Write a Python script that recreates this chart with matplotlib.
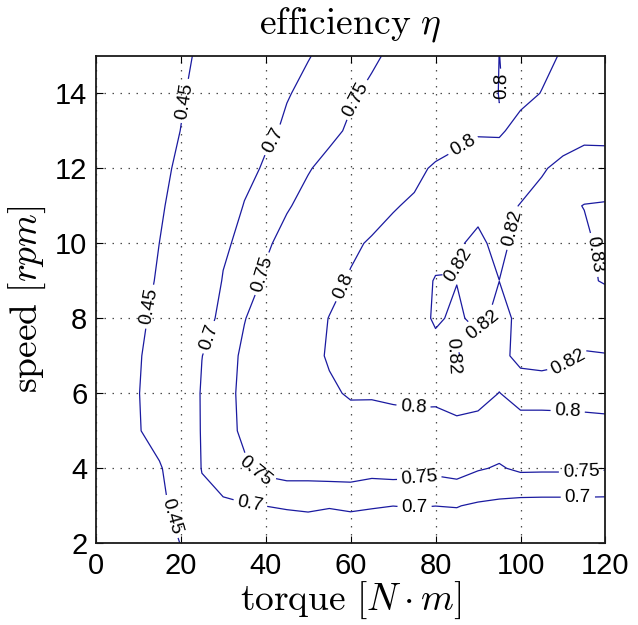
import matplotlib
matplotlib.use("Agg")
import matplotlib.pyplot as plt
import numpy as np

# ---- data -------------------------------------------------------------
torque = [0, 5, 10, 15, 20, 25, 30, 35, 40, 45, 50, 55, 60, 65, 70, 75, 80, 85, 90, 95, 100, 105, 110, 115, 120]
speed = [2, 3, 4, 5, 6, 7, 8, 9, 10, 11, 12, 13, 14, 15]
levels = [0.45, 0.7, 0.75, 0.8, 0.82, 0.83]

eta_s2 = [0.25, 0.30, 0.351, 0.402, 0.452, 0.50, 0.55, 0.60, 0.64, 0.665, 0.67, 0.67, 0.67, 0.67, 0.67, 0.67, 0.67, 0.67, 0.67, 0.67, 0.67, 0.67, 0.67, 0.67, 0.67]
eta_s3 = [0.25, 0.308, 0.366, 0.423, 0.49, 0.6665, 0.6915, 0.696, 0.7005, 0.704, 0.706, 0.7023, 0.7057, 0.7026, 0.7002, 0.7016, 0.7002, 0.7016, 0.694, 0.69, 0.6836, 0.6828, 0.6828, 0.6828, 0.6831]
eta_s4 = [0.25, 0.315, 0.38, 0.43, 0.5737, 0.705, 0.727, 0.745, 0.764, 0.773, 0.772, 0.7757, 0.776, 0.7675, 0.7714, 0.7688, 0.7625, 0.7698, 0.754, 0.7456, 0.7582, 0.7574, 0.7574, 0.7574, 0.7535]
eta_s5 = [0.25, 0.343, 0.437, 0.531, 0.626, 0.706, 0.738, 0.756, 0.771, 0.78, 0.783, 0.785, 0.785, 0.785, 0.785, 0.785, 0.785, 0.79, 0.787, 0.7794, 0.788, 0.788, 0.788, 0.788, 0.788]
eta_s6 = [0.25, 0.347, 0.444, 0.536, 0.628, 0.707, 0.742, 0.7555, 0.7654, 0.7753, 0.785, 0.795, 0.8033, 0.8031, 0.8064, 0.8092, 0.8084, 0.815, 0.8115, 0.7994, 0.8098, 0.8098, 0.8106, 0.812, 0.8147]
eta_s7 = [0.25, 0.343, 0.435, 0.523, 0.611, 0.699, 0.738, 0.755, 0.7666, 0.7781, 0.7896, 0.8033, 0.808, 0.81, 0.812, 0.813, 0.812, 0.822, 0.808, 0.815, 0.825, 0.8268, 0.8237, 0.8185, 0.8195]
eta_s8 = [0.25, 0.332, 0.414, 0.498, 0.584, 0.669, 0.719, 0.749, 0.7625, 0.7753, 0.788, 0.8008, 0.807, 0.81, 0.812, 0.81, 0.823, 0.816, 0.8265, 0.813, 0.8251, 0.827, 0.828, 0.8292, 0.8266]
eta_s9 = [0.25, 0.322, 0.394, 0.468, 0.55, 0.632, 0.705, 0.7335, 0.755, 0.767, 0.779, 0.791, 0.8026, 0.808, 0.811, 0.813, 0.821, 0.8205, 0.826, 0.8201, 0.826, 0.828, 0.829, 0.8292, 0.8304]
eta_s10 = [0.25, 0.317, 0.383, 0.4505, 0.529, 0.608, 0.687, 0.7208, 0.7455, 0.7597, 0.7715, 0.7833, 0.795, 0.803, 0.807, 0.81, 0.814, 0.818, 0.8235, 0.8152, 0.8261, 0.828, 0.829, 0.8285, 0.832]
eta_s11 = [0.25, 0.311, 0.371, 0.432, 0.50, 0.5714, 0.6429, 0.7043, 0.7259, 0.7474, 0.7587, 0.7687, 0.7786, 0.7885, 0.7984, 0.8032, 0.806, 0.81, 0.8155, 0.816, 0.8205, 0.825, 0.8285, 0.8302, 0.8305]
eta_s12 = [0.25, 0.305, 0.36, 0.4157, 0.475, 0.5408, 0.6066, 0.6724, 0.7108, 0.7295, 0.7481, 0.7581, 0.7671, 0.7762, 0.7852, 0.7942, 0.8032, 0.806, 0.809, 0.811, 0.814, 0.8185, 0.8239, 0.8255, 0.826]
eta_s13 = [0.25, 0.3003, 0.3505, 0.4008, 0.4512, 0.5093, 0.5674, 0.6256, 0.6837, 0.7115, 0.7276, 0.7436, 0.7538, 0.762, 0.77, 0.778, 0.7854, 0.794, 0.7983, 0.7976, 0.806, 0.81, 0.8121, 0.8166, 0.816]
eta_s14 = [0.25, 0.2969, 0.3439, 0.3908, 0.4378, 0.4884, 0.5402, 0.5921, 0.644, 0.6959, 0.7147, 0.7308, 0.7468, 0.7546, 0.7604, 0.7661, 0.7719, 0.7776, 0.7834, 0.8008, 0.795, 0.8005, 0.804, 0.807, 0.808]
eta_s15 = [0.25, 0.2939, 0.3377, 0.3816, 0.4254, 0.47, 0.5155, 0.561, 0.6064, 0.6518, 0.6973, 0.7148, 0.7302, 0.7462, 0.7545, 0.7604, 0.7664, 0.7723, 0.7782, 0.8002, 0.79, 0.7955, 0.8015, 0.805, 0.807]

label_spots = [(20.8, 13.8), (13.2, 8.3), (17.5, 2.7),
               (41.0, 12.8), (26.5, 7.5), (36.3, 3.0), (75.1, 2.9), (113.5, 3.2),
               (60.2, 13.9), (38.7, 9.2), (37.9, 4.0), (76.2, 3.73), (114.3, 3.9),
               (86.5, 12.6), (95.3, 14.2), (58.6, 8.85), (74.7, 5.55), (111.1, 5.5),
               (98.3, 10.4), (85.7, 9.4), (90.4, 7.9), (83.8, 7.0), (111.6, 6.75),
               (117.9, 9.7)]

# ---- figure -----------------------------------------------------------
plt.rcParams['mathtext.fontset'] = 'cm'
plt.rcParams['font.family'] = ['Liberation Sans', 'DejaVu Sans']

Z = np.array([eta_s2, eta_s3, eta_s4, eta_s5, eta_s6, eta_s7, eta_s8,
              eta_s9, eta_s10, eta_s11, eta_s12, eta_s13, eta_s14, eta_s15])
T, S = np.meshgrid(torque, speed)

fig = plt.figure(figsize=(6.38, 6.25), dpi=100)
ax = fig.add_axes([0.150, 0.1307, 0.799, 0.780])

cs = ax.contour(T, S, Z, levels=levels, colors='#1a1aa0', linewidths=0.9)
ax.clabel(cs, levels, inline=True, fmt='%g', fontsize=13.5, colors='k',
          manual=label_spots, inline_spacing=4)

ax.set_xlim(0, 120)
ax.set_ylim(2, 15)
ax.set_xticks([0, 20, 40, 60, 80, 100, 120])
ax.set_yticks([2, 4, 6, 8, 10, 12, 14])
ax.grid(True, linestyle=(0, (1.2, 5.2)), color='0.3', linewidth=0.9)
ax.tick_params(direction='in', top=True, right=True, labelsize=21, length=5, pad=6)
for sp in ax.spines.values():
    sp.set_linewidth(1.3)
    sp.set_color('0.1')

ax.set_title(r'$\mathrm{efficiency}\ \eta$', fontsize=27, pad=16)
ax.set_xlabel(r'$\mathrm{torque}\ [N\cdot m]$', fontsize=27, labelpad=0)
ax.set_ylabel(r'$\mathrm{speed}\ [rpm]$', fontsize=27, labelpad=5)

fig.savefig('out.png', dpi=100)
